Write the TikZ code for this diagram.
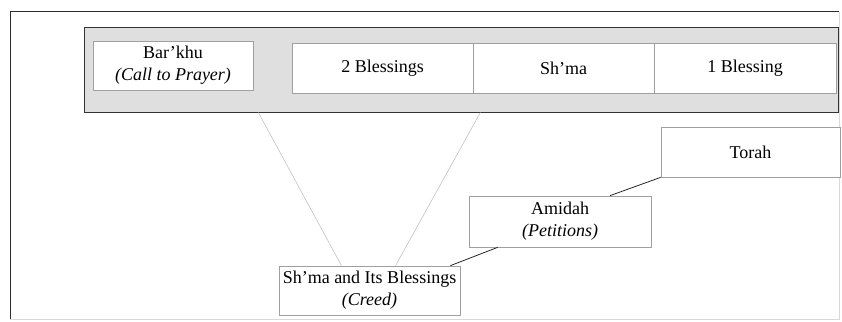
\documentclass[tikz,border=0pt]{standalone}
\usepackage{fontspec}
\setmainfont{Liberation Serif}
\begin{document}
\begin{tikzpicture}[x=1pt,y=-1pt,
  cell/.style={draw=gray!75,line width=0.7pt,fill=white,inner sep=0pt,align=center,
    font=\fontsize{18}{22}\selectfont},
  link/.style={draw=gray!55,line width=0.5pt},
  linkd/.style={draw=gray!30!black,line width=0.8pt}]
\useasboundingbox (0,0) rectangle (842,321);
% outer frame
\draw[gray!30,line width=0.8pt] (839,12) -- (839,319) -- (10,319);
\draw[gray!35!black,line width=1pt] (10,319) -- (10,12) -- (839,12);
% grey bar
\node[draw=gray!40!black,line width=1pt,fill=gray!25,minimum width=754pt,minimum height=84pt,inner sep=0pt] (bar) at (461,70) {};
% cells
\node[cell,minimum width=160pt,minimum height=49pt] (barkhu) at (173,65.5) {Bar'khu\\\textit{(Call to Prayer)}};
\node[cell,minimum width=181pt,minimum height=50pt] (bless2) at (382.5,68) {2 Blessings};
\node[cell,minimum width=181pt,minimum height=50pt] (shma) at (563.5,68) {Sh'ma};
\node[cell,minimum width=182pt,minimum height=50pt] (bless1) at (745,68) {1 Blessing};
\node[cell,minimum width=179pt,minimum height=50pt] (torah) at (750.5,152) {Torah};
\node[cell,minimum width=182pt,minimum height=51pt] (amidah) at (560,221.5) {Amidah\\\textit{(Petitions)}};
\node[cell,minimum width=181pt,minimum height=49pt] (sb) at (369.5,290.5) {Sh'ma and Its Blessings\\\textit{(Creed)}};
% connectors
\draw[link] ([xshift=5pt]barkhu.east |- bar.south) -- ([xshift=-28pt]sb.north);
\draw[link] ([xshift=7pt]bless2.east |- bar.south) -- ([xshift=26pt]sb.north);
\draw[linkd] ([xshift=-10pt]sb.north east) -- ([xshift=29pt]amidah.south west);
\draw[linkd] ([xshift=50pt]amidah.north) -- (torah.south west);
\end{tikzpicture}
\end{document}
